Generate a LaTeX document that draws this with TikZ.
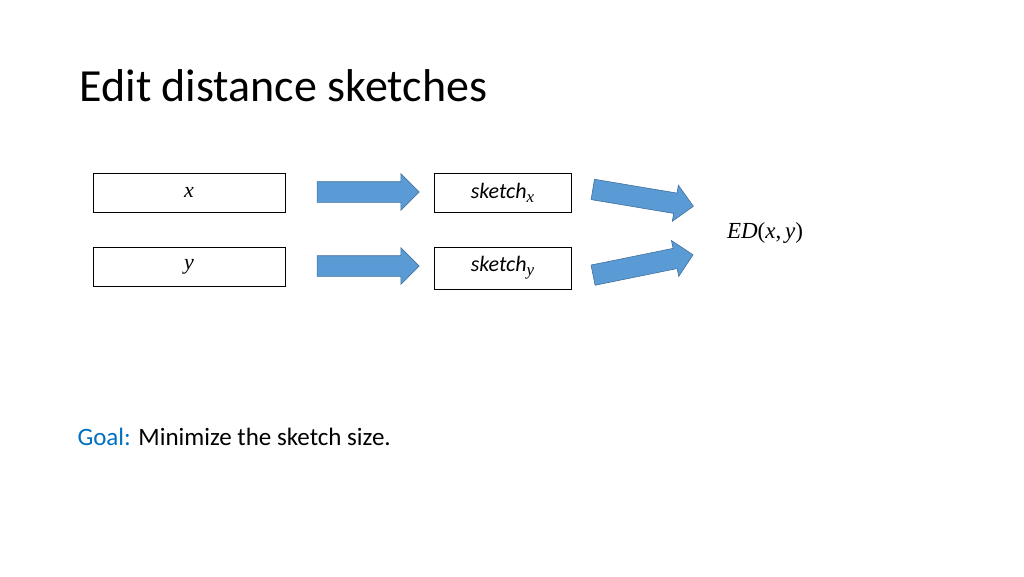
\documentclass[tikz,border=0pt]{standalone}
\usepackage{fontspec}
\setmainfont{Carlito}
\newfontfamily\mathf{Liberation Serif}
\newcommand{\mi}[1]{{\mathf\itshape #1}}
\usetikzlibrary{shapes.arrows}
\definecolor{afill}{HTML}{5B9BD5}
\definecolor{aline}{HTML}{41719C}
\definecolor{goal}{HTML}{0070C0}
\begin{document}
\begin{tikzpicture}[x=1pt,y=-1pt,
  box/.style={draw,line width=0.8pt,inner sep=0pt},
  barrow/.style={single arrow,fill=afill,draw=aline,line width=0.6pt,minimum height=102pt,inner xsep=0pt,inner ysep=10pt,single arrow head extend=8pt,single arrow head indent=0pt,anchor=center}]
\useasboundingbox (0,0) rectangle (1024,576);
\node[anchor=west,font=\fontsize{46}{54}\selectfont] (title) at (76,86) {Edit distance sketches};
\node[box,minimum width=192pt,minimum height=39pt] (x) at (189,192.5) {\fontsize{22}{26}\selectfont\mi{x}};
\node[box,minimum width=192pt,minimum height=39pt] (y) at (189,266.5) {\fontsize{22}{26}\selectfont\mi{y}};
\node[box,minimum width=137pt,minimum height=39pt] (sx) at (502.5,192.5) {\fontsize{22}{26}\selectfont\textit{sketch}\raisebox{-4pt}{\fontsize{17}{20}\selectfont\mi{x}}};
\node[box,minimum width=137pt,minimum height=42pt] (sy) at (502.5,268) {\fontsize{22}{26}\selectfont\textit{sketch}\raisebox{-4pt}{\fontsize{17}{20}\selectfont\mi{y}}};
\node[barrow] (a1) at (363,192) {};
\node[barrow] (a2) at (363,266) {};
\node[barrow,rotate=-9.5] (a3) at (638,197) {};
\node[barrow,rotate=11.5] (a4) at (638,266) {};
\node (ed) at (765,233) {\fontsize{23}{27}\selectfont\mi{ED}{\mathf(}\mi{x}{\mathf,\,}\mi{y}{\mathf)}};
\node[anchor=west,font=\fontsize{25}{30}\selectfont] (g) at (74,437) {\textcolor{goal}{Goal:} Minimize the sketch size.};
\end{tikzpicture}
\end{document}
